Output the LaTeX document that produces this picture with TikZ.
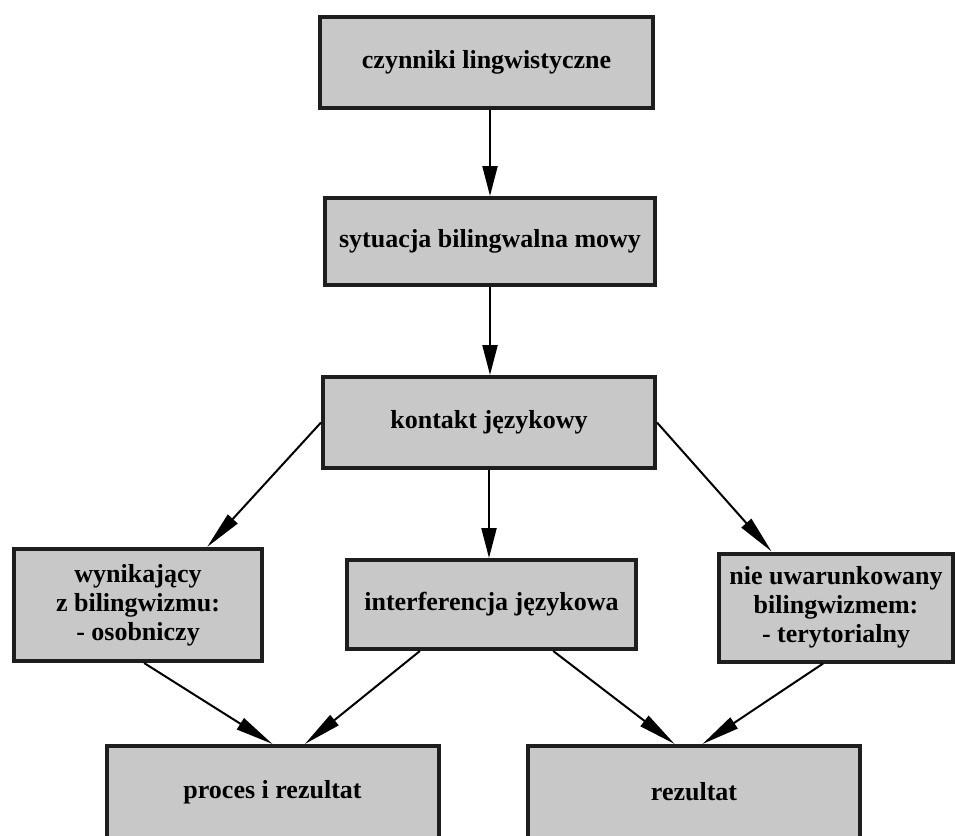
\documentclass[tikz,border=0pt]{standalone}
\usepackage{fontspec}
\setmainfont{Liberation Serif}
\usepackage{tikz}
\usetikzlibrary{arrows.meta}
\definecolor{boxgray}{RGB}{200,200,200}
\definecolor{boxline}{RGB}{30,30,30}

\begin{document}
\begin{tikzpicture}[x=1pt, y=-1pt,
    every node/.style={font=\bfseries\fontsize{26}{29}\selectfont, align=center},
    box/.style={rectangle, draw=boxline, line width=4pt, fill=boxgray, inner sep=0pt},
    arr/.style={-{Triangle[length=30pt,width=15pt]}, line width=2.2pt},
    darr/.style={-{Triangle[length=38pt,width=13pt]}, line width=2pt}]

    \clip (0,0) rectangle (957,835);

    % Boxes
    \node[box, minimum width=333pt, minimum height=91pt] (czynniki) at (486.5,62.5) {czynniki lingwistyczne};
    \node[box, minimum width=330pt, minimum height=87pt] (sytuacja) at (490,241.5) {sytuacja bilingwalna mowy};
    \node[box, minimum width=332pt, minimum height=91pt] (kontakt) at (489,422.5) {kontakt językowy};
    \node[box, minimum width=248pt, minimum height=112pt] (wynikajacy) at (138,605) {wynikający\\z bilingwizmu:\\- osobniczy};
    \node[box, minimum width=289pt, minimum height=89pt] (interferencja) at (491.5,604.5) {interferencja językowa};
    \node[box, minimum width=234pt, minimum height=108pt] (uwarunkowany) at (836,607.5) {nie uwarunkowany\\bilingwizmem:\\- terytorialny};
    \node[box, minimum width=332pt, minimum height=92pt] (proces) at (272.5,792) {proces i rezultat};
    \node[box, minimum width=332pt, minimum height=92pt] (rezultat) at (694,792) {rezultat};

    % Arrows
    \draw[arr] (czynniki.south -| sytuacja.north) -- (sytuacja.north);
    \draw[arr] (sytuacja.south) -- (sytuacja.south |- kontakt.north);
    \draw[arr] (kontakt.south) -- (kontakt.south |- interferencja.north);
    \draw[darr] (kontakt.west) -- (wynikajacy.40);
    \draw[darr] (kontakt.east) -- (uwarunkowany.139);
    % Into the bottom row
    \draw[darr] (wynikajacy.-84) -- (proces.north);
    \draw[darr] (interferencja.-147) -- (proces.56);
    \draw[darr] (interferencja.-37.5) -- (rezultat.112);
    \draw[darr] (uwarunkowany.-103) -- (rezultat.80);

\end{tikzpicture}
\end{document}
